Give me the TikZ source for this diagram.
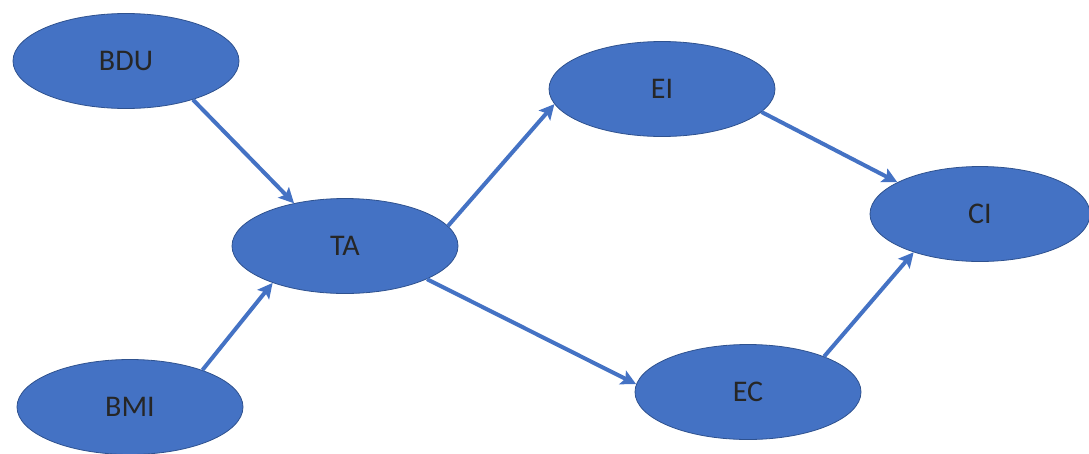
\documentclass[tikz,border=0pt]{standalone}
\usepackage{fontspec}
\setmainfont{Carlito}
\usetikzlibrary{shapes.geometric,arrows.meta}
\definecolor{nodefill}{HTML}{4472C4}
\definecolor{nodeedge}{HTML}{2F528F}
\tikzset{
  var/.style={ellipse, draw=nodeedge, line width=0.8pt, fill=nodefill,
    minimum width=226pt, minimum height=95pt, inner sep=0pt,
    font=\fontsize{30}{32}\selectfont, text=black!85},
  link/.style={draw=nodefill, line width=4pt,
    -{Stealth[length=15pt,width=15pt,inset=3pt]}}
}
\begin{document}
\begin{tikzpicture}[x=1pt,y=-1pt]
\useasboundingbox (0,0) rectangle (1089,453);
\node[var] (BDU) at (126,61) {BDU};
\node[var] (TA) at (345,246) {TA};
\node[var] (BMI) at (130,407) {BMI};
\node[var] (EI) at (662,89) {EI};
\node[var, minimum width=220pt] (CI) at (980,214) {CI};
\node[var] (EC) at (748,392) {EC};
\draw[link] (BDU.-30) -- (TA.140);
\draw[link] (BMI.27) -- (TA.207);
\draw[link] (TA.11) -- (EI.188);
\draw[link] (TA.-22) -- (EC.176);
\draw[link] (EI.-13) -- (CI.159);
\draw[link] (EC.25) -- (CI.210);
\end{tikzpicture}
\end{document}
